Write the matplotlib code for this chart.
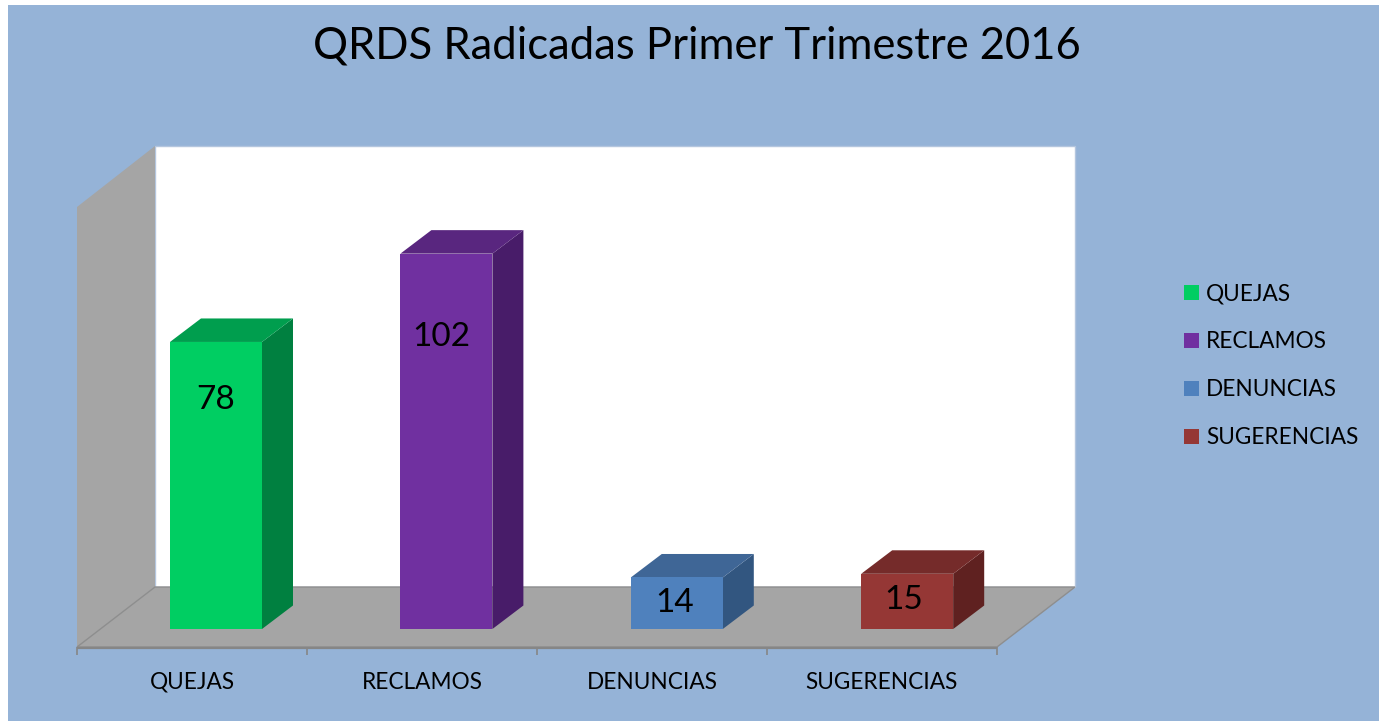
import matplotlib.pyplot as plt
from matplotlib.patches import Polygon, Rectangle

plt.rcParams['font.family'] = ['Lato', 'DejaVu Sans']

title = "QRDS Radicadas Primer Trimestre 2016"
categories = ["QUEJAS", "RECLAMOS", "DENUNCIAS", "SUGERENCIAS"]
values = [78, 102, 14, 15]
front_colors = ["#00CE62", "#7030A0", "#4F81BD", "#953735"]
side_colors = ["#008040", "#481C69", "#325680", "#5F2120"]
top_colors = ["#009E4E", "#59267F", "#3F6696", "#752B2A"]

W, H = 1379, 721
BLUE = "#95B3D7"
GREY = "#A5A5A5"

fig = plt.figure(figsize=(W / 100, H / 100), dpi=100, facecolor="white")

# backdrop in pixel coordinates: panel, walls, axis
bg = fig.add_axes([0, 0, 1, 1])
bg.set_xlim(0, W)
bg.set_ylim(H, 0)
bg.axis("off")
bg.add_patch(Rectangle((8, 5), W - 8, H - 5, fc=BLUE, ec="none"))
bg.add_patch(Rectangle((155, 146), 920, 441, fc="white", ec="#B4C6DE", lw=1))
bg.add_patch(Polygon([(77, 207), (155, 146), (155, 587), (77, 647)], fc=GREY, ec="none"))
bg.add_patch(Polygon([(77, 647), (155, 587), (1075, 587), (997, 647)], fc=GREY, ec="#8E8E8E", lw=1))
bg.plot([77, 997], [647.5, 647.5], color="#868686", lw=1.6, solid_capstyle="butt")
tick_edges = [77, 307, 537, 767, 997]
for t in tick_edges:
    bg.plot([t, t], [647, 655], color="#868686", lw=1.2, solid_capstyle="butt")
for i, name in enumerate(categories):
    bg.text((tick_edges[i] + tick_edges[i + 1]) / 2 - (1 if i == 3 else 0), 680.5, name, ha="center", va="center_baseline", fontsize=16.3, color="black")
bg.text(697, 46, title, ha="center", va="center", fontsize=31.4, color="black")

# bars: x is the category index, y is the value, 1 unit = 3.68 px
px_per_cat = 230.4
px_per_val = 3.68
ax = fig.add_axes([0, 0, 1, 1])
ax.patch.set_alpha(0)
ax.axis("off")
ax.set_xlim(-216 / px_per_cat, (W - 216) / px_per_cat)
ax.set_ylim((629 - H) / px_per_val, 629 / px_per_val)

width = 92 / px_per_cat
dx = 31 / px_per_cat
dy = 23.5 / px_per_val
bars = ax.bar(range(4), values, width=width, color=front_colors, linewidth=0, zorder=3)
for i, v in enumerate(values):
    r = i + width / 2
    l = i - width / 2
    ax.add_patch(Polygon([(r, 0), (r + dx, dy), (r + dx, v + dy), (r, v)], fc=side_colors[i], ec="none", zorder=2))
    ax.add_patch(Polygon([(l, v), (l + dx, v + dy), (r + dx, v + dy), (r, v)], fc=top_colors[i], ec="none", zorder=2))

# value labels, placed by pixel row as in the original
label_rows = [400, 337, 603, 600]
label_shift = [0, -0.02, -0.01, -0.015]
for i, v in enumerate(values):
    ax.text(i + label_shift[i], (629 - label_rows[i]) / px_per_val, str(v), ha="center", va="center", fontsize=24, color="black", zorder=4)

# legend
legend_rows = [292, 340, 388, 436]
for name, c, row in zip(categories, front_colors, legend_rows):
    bg.add_patch(Rectangle((1184, row - 7.5), 15, 15, fc=c, ec="none"))
    bg.text(1206, row + 8.5, name, ha="left", va="baseline", fontsize=16.3, color="black")

fig.savefig("out.png", dpi=100)
